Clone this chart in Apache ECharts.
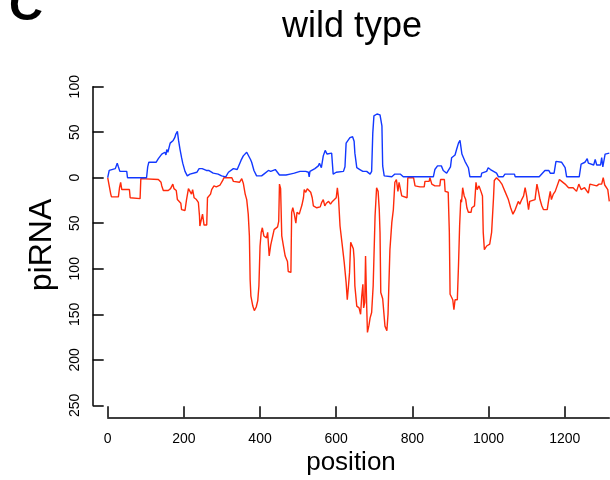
<!DOCTYPE html>
<html>
<head>
<meta charset="utf-8">
<script src="https://cdn.jsdelivr.net/npm/echarts@6/dist/echarts.min.js"></script>
<style>html,body{margin:0;padding:0;background:#fff}#c{width:610px;height:480px}</style>
</head>
<body>
<div id="c"></div>
<script>
// x tick labels
const xTicks = [0, 200, 400, 600, 800, 1000, 1200];
const xMax = 1317;
// y tick labels (shown as absolute values)
const yTicks = [-250, -200, -150, -100, -50, 0, 50, 100];
// blue series: [position, piRNA]
const blueSeries = [[0,0],[4,8],[6,10],[20,10],[25,16],[28,12],[32,7],[50,7],[52,0],[102,0],[105,12],[108,17],[127,17],[133,21],[138,22],[142,26],[150,28],[153,25],[155,31],[158,28],[164,38],[168,36],[172,41],[176,44],[179,48],[183,51],[186,41],[190,31],[194,22],[197,16],[203,7],[209,2],[216,4],[234,6],[240,10],[248,10],[252,11],[259,8],[265,8],[270,6],[277,5],[290,4],[299,2],[310,1],[317,6],[319,8],[330,10],[335,11],[340,9],[345,8],[350,19],[356,24],[360,25],[365,28],[370,26],[375,20],[378,17],[384,8],[391,2],[404,2],[410,4],[422,8],[428,7],[433,9],[440,9],[445,10],[451,3],[468,3],[470,1],[479,4],[490,5],[505,7],[520,7],[527,6],[529,1],[531,7],[544,10],[553,13],[556,16],[558,18],[561,11],[566,24],[571,30],[576,26],[580,27],[588,27],[592,4],[600,6],[619,7],[623,12],[626,38],[631,40],[636,44],[643,45],[647,40],[649,27],[654,11],[662,9],[665,11],[670,7],[680,7],[689,4],[693,7],[696,49],[699,68],[707,70],[715,69],[720,57],[722,13],[726,2],[746,1],[754,4],[768,4],[776,1],[855,1],[859,9],[866,13],[876,13],[881,8],[890,5],[895,6],[900,12],[903,22],[912,25],[916,31],[921,38],[925,41],[930,26],[938,18],[947,11],[951,1],[980,1],[982,5],[995,7],[999,11],[1005,9],[1010,8],[1021,5],[1026,1],[1038,1],[1043,4],[1068,4],[1070,1],[1133,1],[1137,3],[1148,8],[1158,8],[1162,5],[1172,5],[1177,18],[1192,17],[1201,11],[1205,1],[1238,1],[1243,15],[1253,17],[1259,21],[1262,16],[1266,15],[1276,14],[1280,20],[1284,14],[1294,14],[1297,22],[1300,12],[1306,26],[1310,28],[1317,27]];
// red series: [position, -piRNA]
const redSeries = [[0,0],[4,-9],[8,-18],[10,-21],[28,-21],[31,-11],[34,-5],[37,-13],[57,-13],[59,-22],[85,-23],[87,-1],[90,-2],[133,-2],[140,-5],[142,-9],[146,-14],[150,-12],[159,-14],[165,-12],[171,-7],[174,-12],[180,-14],[183,-24],[188,-26],[192,-28],[194,-35],[203,-36],[207,-24],[212,-12],[216,-15],[220,-18],[223,-13],[227,-22],[233,-24],[238,-27],[241,-42],[242,-53],[247,-53],[249,-40],[253,-52],[260,-52],[262,-22],[266,-20],[270,-18],[273,-13],[277,-11],[279,-9],[285,-10],[290,-9],[295,-8],[302,-3],[305,0],[326,0],[330,-4],[346,-5],[350,-3],[352,-1],[356,-6],[361,-18],[365,-24],[369,-40],[372,-64],[374,-112],[376,-130],[381,-141],[385,-146],[387,-147],[390,-142],[394,-135],[397,-119],[400,-75],[403,-60],[406,-55],[410,-64],[413,-62],[417,-66],[420,-60],[424,-86],[428,-74],[432,-72],[437,-57],[441,-56],[446,-54],[449,-48],[451,-7],[454,-12],[457,-64],[461,-74],[466,-86],[472,-92],[474,-103],[481,-104],[483,-38],[486,-33],[490,-40],[494,-50],[497,-38],[503,-40],[505,-37],[510,-30],[514,-22],[516,-13],[520,-16],[524,-12],[527,-11],[533,-16],[537,-22],[540,-31],[549,-33],[558,-32],[562,-27],[566,-24],[570,-31],[574,-28],[580,-26],[585,-29],[590,-26],[595,-27],[600,-22],[603,-11],[606,-22],[610,-53],[615,-71],[621,-93],[626,-115],[629,-134],[632,-120],[635,-104],[638,-71],[642,-71],[645,-78],[647,-89],[649,-119],[654,-141],[660,-143],[664,-150],[667,-130],[670,-117],[672,-143],[675,-137],[677,-86],[680,-141],[682,-170],[686,-162],[689,-154],[693,-148],[697,-119],[702,-42],[706,-11],[710,-15],[713,-35],[715,-60],[717,-126],[722,-133],[728,-163],[733,-168],[736,-150],[741,-79],[746,-49],[750,-35],[754,-5],[758,-2],[760,-2],[762,-15],[765,-5],[772,-20],[776,-22],[786,-22],[788,0],[803,0],[807,-9],[820,-10],[824,-11],[831,-10],[833,-4],[844,-4],[846,0],[851,-7],[859,-9],[872,-9],[874,-2],[884,-2],[886,-15],[894,-16],[897,-60],[899,-128],[903,-130],[906,-134],[909,-145],[912,-134],[918,-134],[921,-97],[924,-53],[927,-24],[929,-27],[932,-11],[936,-20],[940,-24],[943,-33],[947,-38],[954,-38],[956,-33],[963,-31],[967,-5],[970,-13],[975,-9],[980,-15],[984,-20],[986,-60],[989,-79],[995,-75],[1003,-73],[1008,-60],[1013,-22],[1015,-3],[1021,0],[1028,-3],[1035,-7],[1039,-11],[1043,-15],[1052,-24],[1058,-33],[1064,-40],[1070,-35],[1074,-33],[1078,-26],[1082,-29],[1087,-24],[1092,-20],[1096,-11],[1100,-20],[1105,-35],[1108,-26],[1113,-24],[1122,-24],[1127,-7],[1131,-15],[1135,-24],[1140,-31],[1144,-35],[1154,-35],[1158,-24],[1162,-15],[1165,-24],[1170,-18],[1175,-15],[1186,-2],[1192,-4],[1201,-7],[1210,-11],[1214,-13],[1222,-11],[1231,-15],[1237,-7],[1243,-13],[1252,-11],[1262,-17],[1266,-7],[1284,-9],[1290,-7],[1297,-7],[1301,0],[1305,-8],[1313,-13],[1317,-26]];

const FONT = "'Liberation Sans', Arial, Helvetica, sans-serif";
const chart = echarts.init(document.getElementById('c'), null, {renderer: 'canvas'});
chart.setOption({
  animation: false,
  backgroundColor: '#fff',
  grid: {left: 107.7, right: 0.7, top: 86.7, bottom: 74.7, containLabel: false},
  xAxis: {
    type: 'value', min: xTicks[0], max: xMax, interval: 200,
    offset: 12,
    axisLine: {show: true, onZero: false, lineStyle: {color: '#000', width: 1.5}},
    axisTick: {show: true, inside: true, length: 11, lineStyle: {color: '#000', width: 1.5}},
    axisLabel: {show: true, margin: 15, fontSize: 14, color: '#000', fontFamily: FONT,
      showMaxLabel: false,
      formatter: v => (xTicks.indexOf(v) >= 0 ? String(v) : '')},
    splitLine: {show: false}
  },
  yAxis: {
    type: 'value', min: yTicks[0], max: yTicks[yTicks.length - 1], interval: 50,
    offset: 15,
    axisLine: {show: true, onZero: false, lineStyle: {color: '#000', width: 1.5}},
    axisTick: {show: true, inside: true, length: 11, lineStyle: {color: '#000', width: 1.5}},
    axisLabel: {show: true, rotate: 90, margin: 11, fontSize: 14, color: '#000', fontFamily: FONT,
      formatter: v => String(Math.abs(v))},
    splitLine: {show: false}
  },
  series: [
    {type: 'line', data: blueSeries, showSymbol: false, symbol: 'none',
     lineStyle: {color: '#1238ff', width: 1.4}, z: 3},
    {type: 'line', data: redSeries, showSymbol: false, symbol: 'none',
     lineStyle: {color: '#ff2a0a', width: 1.4}, z: 2}
  ],
  graphic: [
    {type: 'text', x: 352, y: 27, style: {text: 'wild type', fill: '#000',
      font: '36px ' + FONT, textAlign: 'center', textVerticalAlign: 'middle'}},
    {type: 'text', x: 26, y: 7, style: {text: 'C', fill: '#000',
      font: 'bold 47px ' + FONT, textAlign: 'center', textVerticalAlign: 'middle'}},
    {type: 'text', x: 351, y: 463, style: {text: 'position', fill: '#000',
      font: '26px ' + FONT, textAlign: 'center', textVerticalAlign: 'middle'}},
    {type: 'text', x: 42, y: 245, rotation: Math.PI / 2, style: {text: 'piRNA', fill: '#000',
      font: '32px ' + FONT, textAlign: 'center', textVerticalAlign: 'middle'}}
  ]
});
</script>
</body>
</html>
